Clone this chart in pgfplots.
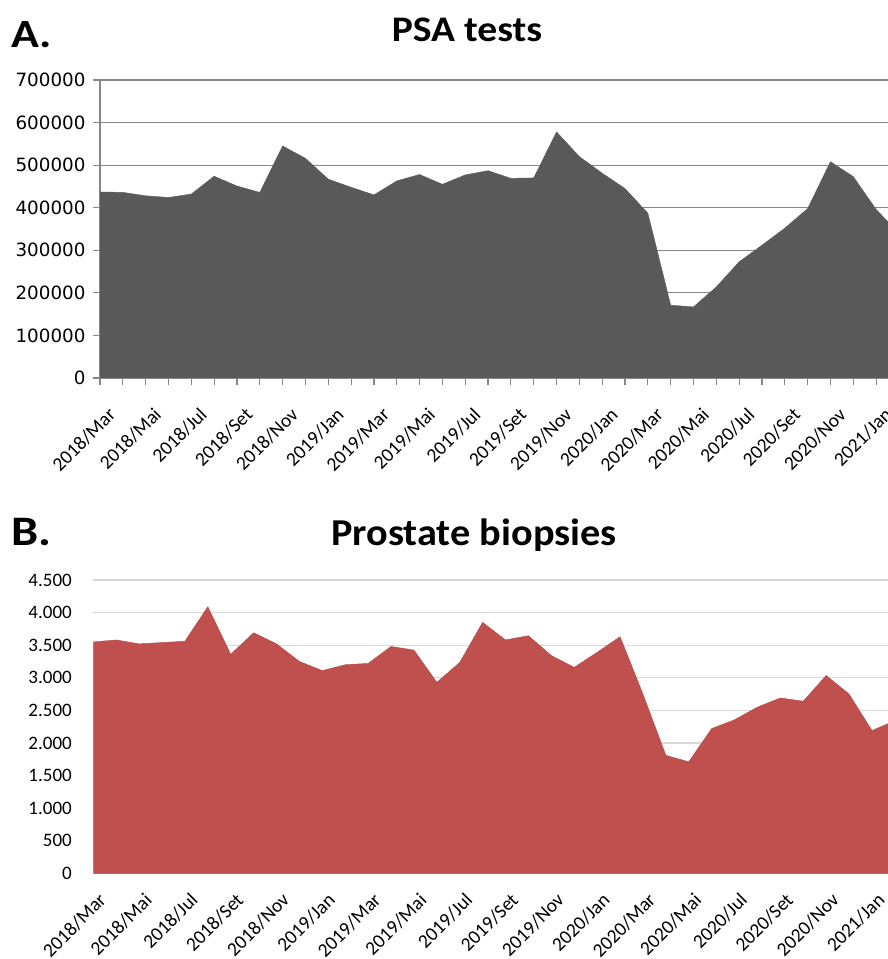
\documentclass[border=0pt]{standalone}
\usepackage{pgfplots}
\pgfplotsset{compat=1.18}
\usepackage{fontspec}
\setmainfont{Carlito}
\newfontfamily\dejavu{DejaVu Sans}

\definecolor{psagray}{RGB}{89,89,89}
\definecolor{gridA}{RGB}{134,134,134}
\definecolor{biored}{RGB}{192,80,77}
\definecolor{gridB}{RGB}{217,217,217}

\pgfplotstableread{
idx psa
0 437000
1 436000
2 428000
3 424000
4 432000
5 474000
6 451000
7 436000
8 545000
9 516000
10 467000
11 448000
12 430000
13 463000
14 478000
15 455000
16 477000
17 487000
18 469000
19 470000
20 578000
21 520000
22 481000
23 445000
24 387000
25 171000
26 167000
27 214000
28 273000
29 312000
30 352000
31 398000
32 508000
33 473000
34 396000
35 340000
}\psadata

\pgfplotstableread{
idx bio
0 3550
1 3580
2 3520
3 3540
4 3560
5 4090
6 3360
7 3690
8 3520
9 3250
10 3110
11 3200
12 3220
13 3480
14 3425
15 2930
16 3235
17 3850
18 3580
19 3645
20 3340
21 3160
22 3390
23 3630
24 2750
25 1810
26 1710
27 2220
28 2355
29 2550
30 2690
31 2640
32 3035
33 2750
34 2190
35 2340
}\biodata

\def\months{2018/Mar,2018/Mai,2018/Jul,2018/Set,2018/Nov,2019/Jan,2019/Mar,2019/Mai,2019/Jul,2019/Set,2019/Nov,2020/Jan,2020/Mar,2020/Mai,2020/Jul,2020/Set,2020/Nov,2021/Jan}

\begin{document}
\begin{tikzpicture}
\path[use as bounding box] (0,0) rectangle (888pt,959pt);

% panel A
\node[anchor=base west] at (8pt,911pt) {\scalebox{1.15}[1]{\fontsize{40}{44}\selectfont\bfseries A.}};
\node[anchor=base] at (467pt,917.5pt) {\scalebox{1.1}[1]{\fontsize{36}{40}\selectfont\bfseries PSA tests}};
\begin{axis}[
    at={(100pt,581pt)}, anchor=south west,
    scale only axis,
    width=788pt, height=298pt,
    xmin=0, xmax=34.52,
    ymin=0, ymax=700000,
    axis lines*=left,
    axis line style={gridA, line width=1.2pt},
    tick style={gridA, line width=1.2pt},
    tick align=outside,
    major tick length=7pt, minor tick length=7pt,
    xtick={0,2,...,34},
    minor xtick={1,3,...,35},
    xticklabels/.expanded={\months},
    xticklabel style={rotate=45, anchor=north east, inner sep=0pt, xshift=-10pt, yshift=-20pt,
        font=\fontsize{19.5}{22}\selectfont},
    ytick={0,100000,...,700000},
    scaled y ticks=false,
    yticklabel style={font=\dejavu\fontsize{18.3}{20}\selectfont, xshift=-4pt,
        /pgf/number format/fixed, /pgf/number format/1000 sep={},
        /pgf/number format/assume math mode=true},
    ymajorgrids,
    grid style={gridA, line width=1.2pt},
]
\addplot[fill=psagray, draw=psagray] table[x=idx, y=psa] {\psadata} \closedcycle;
\end{axis}

% panel B
\node[anchor=base west] at (8pt,413pt) {\scalebox{1.15}[1]{\fontsize{42}{46}\selectfont\bfseries B.}};
\node[anchor=base] at (474pt,413pt) {\scalebox{1.06}[1]{\fontsize{38}{42}\selectfont\bfseries Prostate biopsies}};
\begin{axis}[
    at={(93.3pt,85.7pt)}, anchor=south west,
    scale only axis,
    width=794.7pt, height=293.3pt,
    xmin=0, xmax=34.7,
    ymin=0, ymax=4500,
    axis line style={draw=none},
    major tick length=0pt,
    xtick={0,2,...,34},
    xticklabels/.expanded={\months},
    xticklabel style={rotate=45, anchor=north east, inner sep=0pt, xshift=-10pt, yshift=-16pt,
        font=\fontsize{19.5}{22}\selectfont},
    ytick={0,500,...,4500},
    yticklabel style={font=\fontsize{19}{21}\selectfont, xshift=-18pt,
        /pgf/number format/fixed, /pgf/number format/1000 sep={.},
        /pgf/number format/assume math mode=true},
    ymajorgrids,
    grid style={gridB, line width=1.2pt},
]
\addplot[fill=biored, draw=biored!90!black] table[x=idx, y=bio] {\biodata} \closedcycle;
\end{axis}
\end{tikzpicture}
\end{document}
